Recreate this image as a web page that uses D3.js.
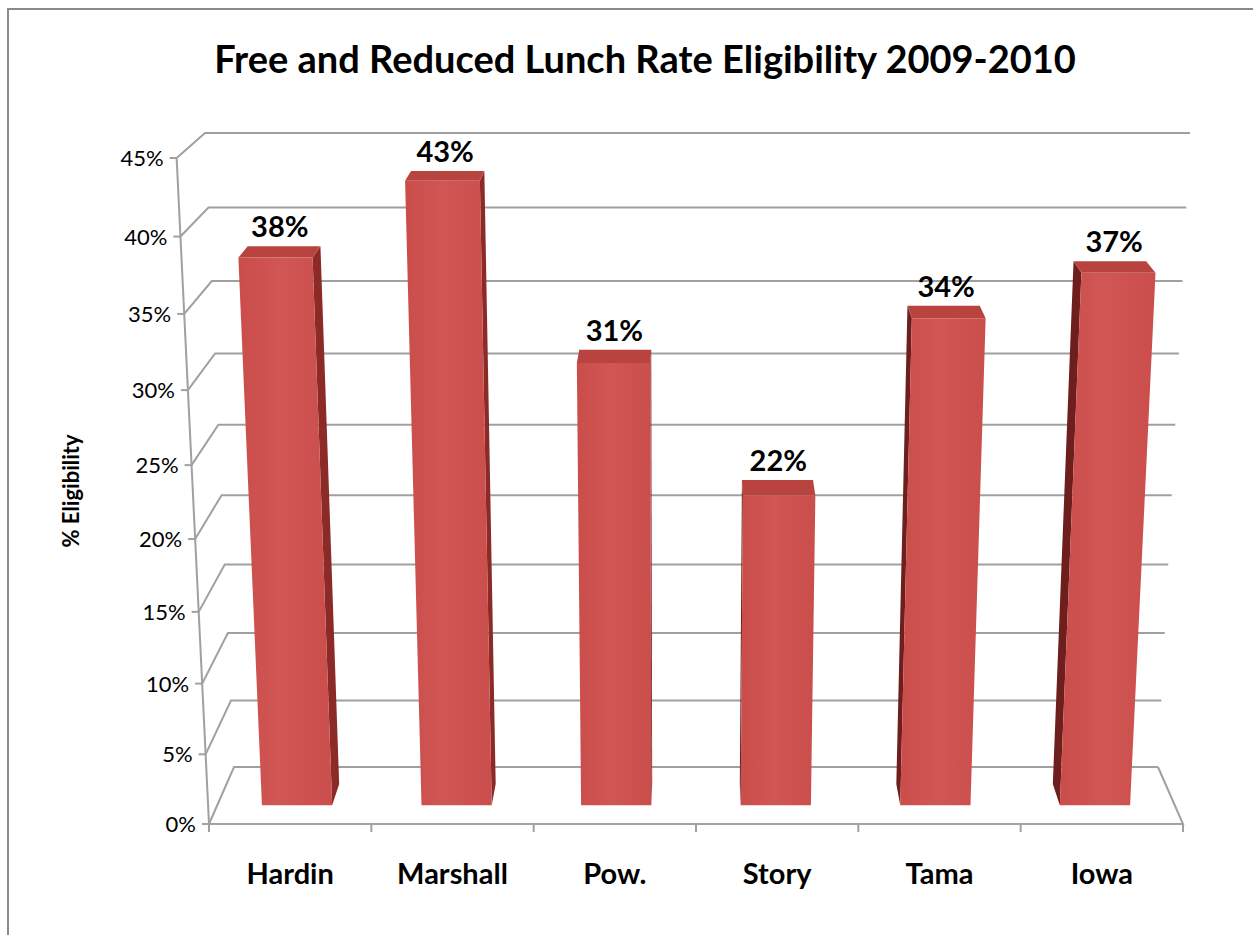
<!DOCTYPE html>
<html>
<head>
<meta charset="utf-8">
<script src="https://cdn.jsdelivr.net/npm/d3@7"></script>
<style>
  body { margin: 0; background: #fff; }
  svg { display: block; font-family: Lato, "Liberation Sans", sans-serif; }
</style>
</head>
<body>
<svg id="chart"></svg>
<script>
const categories = ["Hardin", "Marshall", "Pow.", "Story", "Tama", "Iowa"];
const rates = [0.38, 0.43, 0.31, 0.22, 0.34, 0.37];
const yTicks = [0, 0.05, 0.10, 0.15, 0.20, 0.25, 0.30, 0.35, 0.40, 0.45];
const titleText = "Free and Reduced Lunch Rate Eligibility 2009-2010";
const yTitle = "% Eligibility";

const width = 1253;
const height = 935;

const svg = d3.select("#chart")
    .attr("width", width)
    .attr("height", height);

//Perspective of the 3D box: front plane, back wall, and the vanishing point below
const VPX = 673;
const VPY = 10372;
const front = { y0: 824, y1: 158, xl: 209, xr: 1183 };
const back = { y0: 767, y1: 133, xl: 234, xr: 1158 };
const barZ0 = 0.33;
const barZ1 = 0.70;

const xBand = d3.scaleBand()
    .domain(categories)
    .range([0, 1])
    .paddingInner(0.56)
    .paddingOuter(0.28);

const yScale = d3.scaleLinear()
    .domain([0, 0.45])
    .range([0, 1]);

const planeY = (p, t) => {
    const a = 1 / (VPY - p.y0);
    const b = 1 / (VPY - p.y1);
    return VPY - 1 / (a + (b - a) * t);
};
const planeX = (p, u, y) => {
    const x0 = p.xl + u * (p.xr - p.xl);
    return VPX + (x0 - VPX) * (VPY - y) / (VPY - p.y0);
};
//u: 0..1 across, value: data value, z: 0 front .. 1 back
const proj = (u, value, z) => {
    const t = yScale(value);
    const yf = planeY(front, t), yb = planeY(back, t);
    const xf = planeX(front, u, yf), xb = planeX(back, u, yb);
    return [xf + (xb - xf) * z, yf + (yb - yf) * z];
};

const line = d3.line();
const gridColor = "#a0a0a0";

//Outer chart border (only top and left are in view)
svg.append("path")
    .attr("d", "M8," + height + " L8,9 L" + width + ",9")
    .attr("fill", "none")
    .attr("stroke", "#8a8a8a")
    .attr("stroke-width", 2);

//Walls and gridlines
const grid = svg.append("g").attr("id", "grid")
    .attr("fill", "none")
    .attr("stroke", gridColor)
    .attr("stroke-width", 2);

grid.selectAll(".back")
    .data(yTicks)
    .enter()
    .append("path")
    .attr("d", (d) => line([proj(0, d, 0), proj(0, d, 1), proj(1, d, 1)]));

//floor right edge and front edge
grid.append("path")
    .attr("d", line([proj(1, 0, 1), proj(1, 0, 0), proj(0, 0, 0)]));

//vertical axis line
grid.append("path")
    .attr("d", line([proj(0, 0, 0), proj(0, 0.45, 0)]));

//y ticks
grid.selectAll(".ytick")
    .data(yTicks)
    .enter()
    .append("path")
    .attr("d", (d) => {
        const p = proj(0, d, 0);
        return line([[p[0] - 7, p[1]], p]);
    });

//x ticks at slot boundaries
const boundaries = d3.range(categories.length + 1).map((i) => i / categories.length);
grid.selectAll(".xtick")
    .data(boundaries)
    .enter()
    .append("path")
    .attr("d", (d) => {
        const p = proj(d, 0, 0);
        return line([p, [p[0], p[1] + 8]]);
    });

//Y tick labels
svg.append("g")
    .selectAll("text")
    .data(yTicks)
    .enter()
    .append("text")
    .attr("x", (d) => proj(0, d, 0)[0] - 13)
    .attr("y", (d) => proj(0, d, 0)[1] + 8)
    .attr("text-anchor", "end")
    .style("font-size", "22px")
    .attr("fill", "#000")
    .text((d) => d3.format(".0%")(d));

//Bars
const defs = svg.append("defs");
const grad = defs.append("linearGradient")
    .attr("id", "frontGrad")
    .attr("x1", 0).attr("x2", 1).attr("y1", 0).attr("y2", 0);
grad.append("stop").attr("offset", "0%").attr("stop-color", "#ca4d4a");
grad.append("stop").attr("offset", "45%").attr("stop-color", "#d15754");
grad.append("stop").attr("offset", "100%").attr("stop-color", "#ca4e4b");

const bars = svg.append("g").attr("id", "bars");
categories.forEach((c, i) => {
    const v = rates[i];
    const u0 = xBand(c);
    const u1 = u0 + xBand.bandwidth();
    const g = bars.append("g").attr("class", "bar");
    const center = proj((u0 + u1) / 2, 0, barZ0)[0];
    if (center < VPX) {
        g.append("path")
            .attr("d", line([proj(u1, 0, barZ0), proj(u1, 0, barZ1), proj(u1, v, barZ1), proj(u1, v, barZ0)]) + "Z")
            .attr("fill", "#8c2a28");
    } else {
        g.append("path")
            .attr("d", line([proj(u0, 0, barZ0), proj(u0, 0, barZ1), proj(u0, v, barZ1), proj(u0, v, barZ0)]) + "Z")
            .attr("fill", "#6e1f1d");
    }
    g.append("path")
        .attr("d", line([proj(u0, v, barZ0), proj(u1, v, barZ0), proj(u1, v, barZ1), proj(u0, v, barZ1)]) + "Z")
        .attr("fill", "#b9443f");
    g.append("path")
        .attr("d", line([proj(u0, 0, barZ0), proj(u1, 0, barZ0), proj(u1, v, barZ0), proj(u0, v, barZ0)]) + "Z")
        .attr("fill", "url(#frontGrad)");

    //data label
    const top = proj((u0 + u1) / 2, v, barZ1);
    g.append("text")
        .attr("x", proj((u0 + u1) / 2, v, (barZ0 + barZ1) / 2)[0])
        .attr("y", top[1] - 9)
        .attr("text-anchor", "middle")
        .style("font-size", "29px")
        .style("font-weight", "bold")
        .text(d3.format(".0%")(v));
});

//Category labels
svg.append("g")
    .selectAll("text")
    .data(categories)
    .enter()
    .append("text")
    .attr("x", (d) => proj(xBand(d) + xBand.bandwidth() / 2, 0, 0)[0])
    .attr("y", 884)
    .attr("text-anchor", "middle")
    .style("font-size", "29px")
    .style("font-weight", "bold")
    .text((d) => d);

//Y axis title
svg.append("text")
    .attr("transform", "translate(79, 491) rotate(-90)")
    .attr("text-anchor", "middle")
    .style("font-size", "22px")
    .style("font-weight", "bold")
    .text(yTitle);

//Chart title
svg.append("text")
    .attr("x", 645)
    .attr("y", 73)
    .attr("text-anchor", "middle")
    .style("font-size", "38px")
    .style("font-weight", "bold")
    .text(titleText);
</script>
</body>
</html>
